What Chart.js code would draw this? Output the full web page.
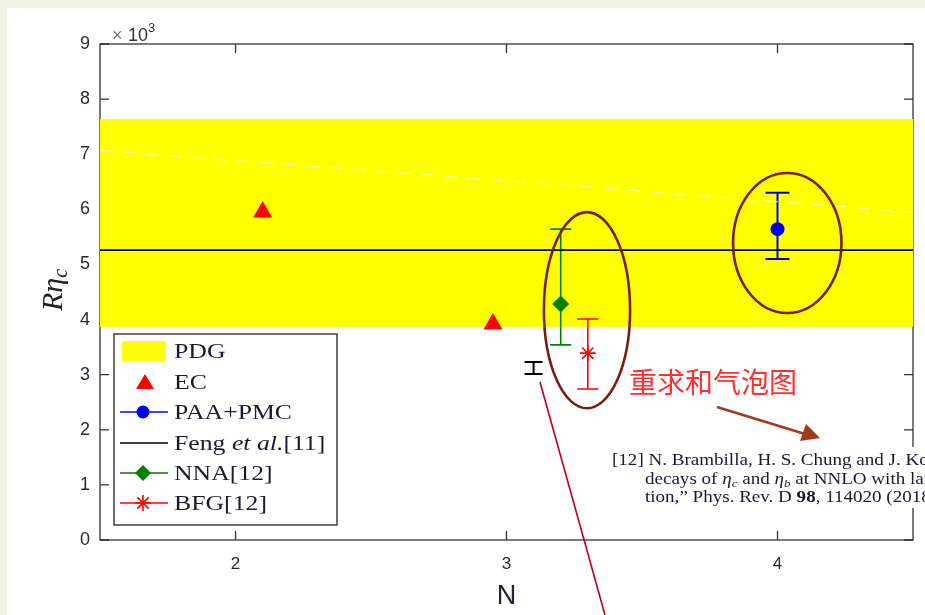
<!DOCTYPE html>
<html><head><meta charset="utf-8">
<script src="https://cdn.jsdelivr.net/npm/chart.js@4/dist/chart.umd.min.js"></script>
<style>html,body{margin:0;padding:0;background:#fff;overflow:hidden}canvas{display:block}</style>
</head><body>
<canvas id="c" width="925" height="615" style="width:925px;height:615px"></canvas>
<script>
// ---------------- data ----------------
const xRange = [1.5, 4.5];
const yRange = [0, 9];
const xTickValues = [2, 3, 4];
const yTickValues = [0, 1, 2, 3, 4, 5, 6, 7, 8, 9];
const pdgBand = [3.87, 7.64];          // lower, upper (x10^3)
const fengValue = 5.26;
const fengPointN = [3.1];
const fengPointR = [3.12];
const fengPointLo = [3.01];
const fengPointHi = [3.23];
const ecN = [2.1, 2.95];
const ecR = [5.95, 3.92];
const paaN = [4.0];
const paaR = [5.64];
const paaLo = [5.10];
const paaHi = [6.30];
const nnaN = [3.2];
const nnaR = [4.28];
const nnaLo = [3.54];
const nnaHi = [5.64];
const bfgN = [3.3];
const bfgR = [3.39];
const bfgLo = [2.74];
const bfgHi = [4.01];
const dashN = [1.5, 3.0, 4.5];
const dashR = [7.07, 6.52, 5.95];
const legendLabels = ['PDG', 'EC', 'PAA+PMC', 'Feng et al.[11]', 'NNA[12]', 'BFG[12]'];

const pts = (xs, ys) => xs.map((v, i) => ({x: v, y: ys[i]}));

const errorSets = [
  {n: paaN, lo: paaLo, hi: paaHi, color: '#0000ff', cap: 12, w: 2},
  {n: nnaN, lo: nnaLo, hi: nnaHi, color: '#008000', cap: 10.5, w: 1.6},
  {n: bfgN, lo: bfgLo, hi: bfgHi, color: '#ff0000', cap: 10.5, w: 1.6},
  {n: fengPointN, lo: fengPointLo, hi: fengPointHi, color: '#000000', cap: 9, w: 2}
];

// ---------------- plugins ----------------
const bgPlugin = {
  id: 'bg',
  beforeDraw(chart) {
    const ctx = chart.ctx;
    ctx.save();
    ctx.fillStyle = '#eff2e4';
    ctx.fillRect(0, 0, chart.width, chart.height);
    ctx.fillStyle = '#ffffff';
    ctx.fillRect(7, 8, chart.width - 7, chart.height - 8);
    ctx.restore();
  }
};

const framePlugin = {
  id: 'frame',
  beforeDatasetsDraw(chart) {
    const {ctx, chartArea: a, scales: {x, y}} = chart;
    ctx.save();
    ctx.strokeStyle = '#333';
    ctx.lineWidth = 1.3;
    ctx.strokeRect(a.left, a.top, a.right - a.left, a.bottom - a.top);
    ctx.beginPath();
    xTickValues.forEach(v => {
      const p = x.getPixelForValue(v);
      ctx.moveTo(p, a.bottom); ctx.lineTo(p, a.bottom - 9);
      ctx.moveTo(p, a.top); ctx.lineTo(p, a.top + 9);
    });
    yTickValues.forEach(v => {
      const p = y.getPixelForValue(v);
      ctx.moveTo(a.left, p); ctx.lineTo(a.left + 9, p);
      ctx.moveTo(a.right, p); ctx.lineTo(a.right - 9, p);
    });
    ctx.stroke();
    ctx.restore();
  }
};

const errPlugin = {
  id: 'errbars',
  afterDatasetDraw(chart, args) {
    if (chart.data.datasets[args.index].id !== 'band') return;
    const {ctx, scales: {x, y}} = chart;
    ctx.save();
    errorSets.forEach(s => {
      s.n.forEach((n, i) => {
        const px = x.getPixelForValue(n);
        const pl = y.getPixelForValue(s.lo[i]);
        const ph = y.getPixelForValue(s.hi[i]);
        ctx.strokeStyle = s.color;
        ctx.lineWidth = s.w;
        ctx.beginPath();
        ctx.moveTo(px, pl); ctx.lineTo(px, ph);
        ctx.moveTo(px - s.cap, pl); ctx.lineTo(px + s.cap, pl);
        ctx.moveTo(px - s.cap, ph); ctx.lineTo(px + s.cap, ph);
        ctx.stroke();
      });
    });
    ctx.restore();
  }
};

function drawRuns(ctx, x, y, runs, sx) {
  ctx.save();
  ctx.translate(x, y);
  ctx.scale(sx, 1);
  let cx = 0;
  runs.forEach(r => {
    ctx.font = r.f;
    ctx.fillStyle = r.c || '#1d1733';
    ctx.fillText(r.t, cx, r.dy || 0);
    cx += ctx.measureText(r.t).width;
  });
  ctx.restore();
}

const overlayPlugin = {
  id: 'overlay',
  afterDraw(chart) {
    const {ctx, chartArea: a, scales: {x, y}} = chart;
    ctx.save();
    // x title
    ctx.font = "27px 'Liberation Sans'";
    ctx.fillStyle = '#22223a';
    ctx.textAlign = 'center';
    ctx.textBaseline = 'middle';
    ctx.fillText('N', x.getPixelForValue(3), 597);
    // y title R eta_c
    ctx.save();
    ctx.translate(62, 290);
    ctx.rotate(-Math.PI / 2);
    ctx.textAlign = 'left';
    ctx.textBaseline = 'alphabetic';
    ctx.font = "italic 30px 'Liberation Serif'";
    const wR = ctx.measureText('R').width;
    const wE = ctx.measureText('\u03B7').width;
    ctx.font = "italic 20px 'Liberation Serif'";
    const wC = ctx.measureText('c').width;
    let sx0 = -(wR + wE + wC) / 2;
    ctx.fillStyle = '#222';
    ctx.font = "italic 30px 'Liberation Serif'";
    ctx.fillText('R', sx0, 0);
    ctx.fillText('\u03B7', sx0 + wR, 0);
    ctx.font = "italic 20px 'Liberation Serif'";
    ctx.fillText('c', sx0 + wR + wE, 5);
    ctx.restore();
    // x10^3
    ctx.textAlign = 'left';
    ctx.textBaseline = 'alphabetic';
    ctx.font = "18px 'Liberation Sans'";
    ctx.fillStyle = '#7a6a8a';
    ctx.fillText('\u00D7', 112, 41);
    ctx.fillStyle = '#333';
    ctx.fillText('10', 128, 41);
    ctx.font = "13px 'Liberation Sans'";
    ctx.fillText('3', 148, 32);

    // legend
    const L = {x: 114, y: 334, w: 223, h: 191};
    ctx.fillStyle = '#fff';
    ctx.fillRect(L.x, L.y, L.w, L.h);
    ctx.strokeStyle = '#222';
    ctx.lineWidth = 1.3;
    ctx.strokeRect(L.x, L.y, L.w, L.h);
    const ly = [351, 382, 412, 443, 473, 503];
    const sxL = 1.17;
    const lf = "22px 'Liberation Serif'";
    const lfi = "italic 22px 'Liberation Serif'";
    // PDG
    ctx.fillStyle = '#ffff00';
    ctx.fillRect(122, ly[0] - 10, 44, 20);
    // EC triangle
    ctx.fillStyle = '#ff0000';
    ctx.beginPath();
    ctx.moveTo(145, ly[1] - 8); ctx.lineTo(154, ly[1] + 7); ctx.lineTo(136, ly[1] + 7); ctx.closePath(); ctx.fill();
    // lines
    const lineEntry = (yy, col) => {
      ctx.strokeStyle = col; ctx.lineWidth = 1.6;
      ctx.beginPath(); ctx.moveTo(120, yy); ctx.lineTo(168, yy); ctx.stroke();
    };
    lineEntry(ly[2], '#0000ff');
    ctx.fillStyle = '#0000ff';
    ctx.beginPath(); ctx.arc(143, ly[2], 6.5, 0, Math.PI * 2); ctx.fill();
    lineEntry(ly[3], '#000000');
    lineEntry(ly[4], '#008000');
    ctx.fillStyle = '#008000';
    ctx.beginPath(); ctx.moveTo(143, ly[4] - 8); ctx.lineTo(151, ly[4]); ctx.lineTo(143, ly[4] + 8); ctx.lineTo(135, ly[4]); ctx.closePath(); ctx.fill();
    lineEntry(ly[5], '#ff0000');
    ctx.strokeStyle = '#ff0000'; ctx.lineWidth = 1.6;
    ctx.beginPath();
    for (let k = 0; k < 4; k++) {
      const ang = k * Math.PI / 4;
      ctx.moveTo(143 - Math.cos(ang) * 8, ly[5] - Math.sin(ang) * 8);
      ctx.lineTo(143 + Math.cos(ang) * 8, ly[5] + Math.sin(ang) * 8);
    }
    ctx.stroke();
    ctx.textBaseline = 'middle';
    drawRuns(ctx, 174, ly[0] + 1, [{t: legendLabels[0], f: lf}], sxL);
    drawRuns(ctx, 174, ly[1] + 1, [{t: legendLabels[1], f: lf}], sxL);
    drawRuns(ctx, 174, ly[2] + 1, [{t: legendLabels[2], f: lf}], sxL);
    drawRuns(ctx, 174, ly[3] + 1, [{t: 'Feng ', f: lf}, {t: 'et al.', f: lfi}, {t: '[11]', f: lf}], sxL);
    drawRuns(ctx, 174, ly[4] + 1, [{t: legendLabels[4], f: lf}], sxL);
    drawRuns(ctx, 174, ly[5] + 1, [{t: legendLabels[5], f: lf}], sxL);

    // ellipses (in data coordinates)
    const ell = (cn, cr, rn, rr) => {
      const cx = x.getPixelForValue(cn), cy = y.getPixelForValue(cr);
      const rx = Math.abs(x.getPixelForValue(cn + rn) - cx);
      const ry = Math.abs(y.getPixelForValue(cr + rr) - cy);
      ctx.beginPath(); ctx.ellipse(cx, cy, rx, ry, 0, 0, Math.PI * 2); ctx.stroke();
    };
    ctx.strokeStyle = '#7a1d0c';
    ctx.lineWidth = 2.6;
    ell(3.297, 4.17, 0.159, 1.78);
    ell(4.036, 5.39, 0.2, 1.27);

    // reference text box
    ctx.fillStyle = '#ffffff';
    ctx.fillRect(606, 447, 925 - 606, 61);
    ctx.textBaseline = 'alphabetic';
    const rf = "16px 'Liberation Serif'";
    const rfi = "italic 16px 'Liberation Serif'";
    const rfs = "italic 11px 'Liberation Serif'";
    const rfb = "bold 16px 'Liberation Serif'";
    const sxR = 1.19;
    drawRuns(ctx, 612, 465, [{t: '[12] N. Brambilla, H. S. Chung and J. Komijani, \u201CInclusive', f: rf}], sxR);
    drawRuns(ctx, 645, 484, [{t: 'decays of ', f: rf}, {t: '\u03B7', f: rfi}, {t: 'c', f: rfs, dy: 3}, {t: ' and ', f: rf}, {t: '\u03B7', f: rfi}, {t: 'b', f: rfs, dy: 3}, {t: ' at NNLO with large resumma-', f: rf}], sxR);
    drawRuns(ctx, 645, 502, [{t: 'tion,\u201D Phys. Rev. D ', f: rf}, {t: '98', f: rfb}, {t: ', 114020 (2018).', f: rf}], sxR);

    // Chinese annotation
    ctx.font = "28px 'Noto Sans CJK SC'";
    ctx.fillStyle = '#ff2f2f';
    ctx.textBaseline = 'middle';
    ctx.textAlign = 'left';
    ctx.fillText('\u91CD\u6C42\u548C\u6C14\u6CE1\u56FE', 629, 382);

    // arrow
    ctx.strokeStyle = '#a3381e';
    ctx.fillStyle = '#a3381e';
    ctx.lineWidth = 2.5;
    ctx.beginPath(); ctx.moveTo(717, 407); ctx.lineTo(805, 434); ctx.stroke();
    ctx.beginPath(); ctx.moveTo(820, 438); ctx.lineTo(800, 441); ctx.lineTo(806, 424); ctx.closePath(); ctx.fill();

    // thin red line
    ctx.strokeStyle = '#c00012';
    ctx.lineWidth = 1.6;
    ctx.beginPath(); ctx.moveTo(540, 382); ctx.lineTo(605, 615); ctx.stroke();
    ctx.restore();
  }
};

// ---------------- chart ----------------
new Chart(document.getElementById('c'), {
  type: 'scatter',
  data: {
    datasets: [
      {id: 'band', type: 'line', label: legendLabels[0], data: pts(xRange, [pdgBand[1], pdgBand[1]]),
       fill: {value: pdgBand[0]}, backgroundColor: '#ffff00', borderWidth: 0, borderColor: 'rgba(0,0,0,0)', pointRadius: 0, order: 10},
      {type: 'line', label: 'dash', data: pts(dashN, dashR), borderColor: 'rgba(255,255,255,0.6)',
       borderDash: [13, 10], borderWidth: 1.5, pointRadius: 0, fill: false, order: 9},
      {type: 'line', label: legendLabels[3], data: pts(xRange, [fengValue, fengValue]), borderColor: '#000',
       borderWidth: 1.6, pointRadius: 0, fill: false, order: 8},
      {label: legendLabels[1], data: pts(ecN, ecR), pointStyle: 'triangle', pointRadius: 11,
       backgroundColor: '#ff0000', borderColor: '#ff0000', borderWidth: 0, order: 1},
      {label: legendLabels[2], data: pts(paaN, paaR), pointStyle: 'circle', pointRadius: 7,
       backgroundColor: '#0000ff', borderColor: '#0000ff', borderWidth: 0, order: 1},
      {label: legendLabels[4], data: pts(nnaN, nnaR), pointStyle: 'rectRot', pointRadius: 8.5,
       backgroundColor: '#008000', borderColor: '#008000', borderWidth: 0, order: 1},
      {label: legendLabels[5], data: pts(bfgN, bfgR), pointStyle: 'star', pointRadius: 8,
       backgroundColor: '#ff0000', borderColor: '#ff0000', borderWidth: 1.6, order: 1}
    ]
  },
  options: {
    responsive: false,
    animation: false,
    devicePixelRatio: 1,
    layout: {padding: {left: 0, right: 12, top: 44, bottom: 0}},
    plugins: {legend: {display: false}, tooltip: {enabled: false}},
    scales: {
      x: {
        type: 'linear', min: xRange[0], max: xRange[1],
        afterBuildTicks: s => { s.ticks = xTickValues.map(v => ({value: v})); },
        afterFit: s => { s.height = 75; },
        grid: {display: false, drawTicks: false},
        border: {display: false},
        ticks: {padding: 14, color: '#2a2a3a', font: {family: 'Liberation Sans', size: 17}}
      },
      y: {
        type: 'linear', min: yRange[0], max: yRange[1],
        afterBuildTicks: s => { s.ticks = yTickValues.map(v => ({value: v})); },
        afterFit: s => { s.width = 100; },
        grid: {display: false, drawTicks: false},
        border: {display: false},
        ticks: {padding: 10, color: '#2a2a3a', font: {family: 'Liberation Sans', size: 18}}
      }
    }
  },
  plugins: [bgPlugin, framePlugin, errPlugin, overlayPlugin]
});
</script>
</body></html>
